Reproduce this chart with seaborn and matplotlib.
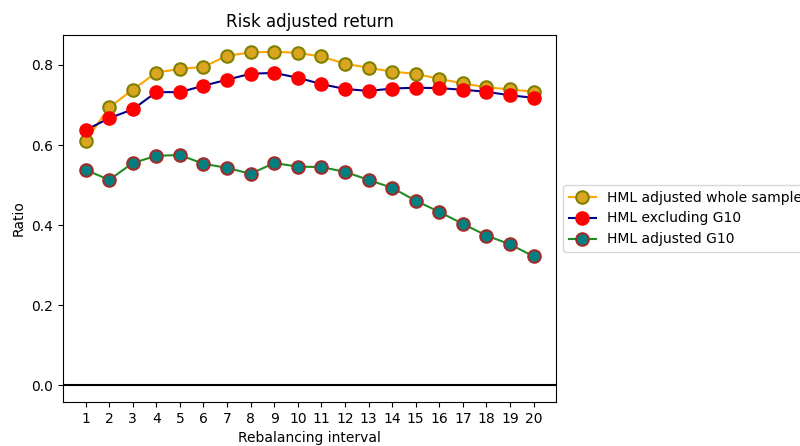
import numpy as np
import pandas as pd
import matplotlib
matplotlib.use("Agg")
import matplotlib.pyplot as plt
import seaborn as sns

# rebalancing interval (months)
interval = list(range(1, 21))

hml_whole = [0.610, 0.694, 0.738, 0.781, 0.790, 0.795, 0.823, 0.831, 0.833, 0.830,
             0.821, 0.803, 0.793, 0.783, 0.778, 0.765, 0.754, 0.744, 0.739, 0.733]
hml_ex_g10 = [0.637, 0.667, 0.689, 0.732, 0.732, 0.748, 0.763, 0.778, 0.780, 0.768,
              0.752, 0.740, 0.735, 0.741, 0.743, 0.742, 0.738, 0.733, 0.724, 0.718]
hml_g10 = [0.538, 0.513, 0.555, 0.573, 0.575, 0.553, 0.543, 0.528, 0.555, 0.546,
           0.545, 0.533, 0.513, 0.493, 0.461, 0.433, 0.403, 0.374, 0.352, 0.322]

df = pd.DataFrame({'interval': interval,
                   'HML adjusted whole sample': hml_whole,
                   'HML excluding G10': hml_ex_g10,
                   'HML adjusted G10': hml_g10})

fig = plt.figure(figsize=(8, 4.46), dpi=100)
ax = fig.add_axes([0.079, 0.0987, 0.616, 0.8228])

styles = {
    'HML adjusted whole sample': ('orange', 'goldenrod', 'olive'),
    'HML excluding G10': ('darkblue', 'red', 'red'),
    'HML adjusted G10': ('forestgreen', 'teal', 'brown'),
}
for name, (lc, fc, ec) in styles.items():
    sns.lineplot(x='interval', y=name, data=df, ax=ax, color=lc, marker='o',
                 markersize=9, markerfacecolor=fc, markeredgecolor=ec,
                 markeredgewidth=1.5, linewidth=1.5, label=name, legend=False)

ax.axhline(0, color='black', linewidth=1.5)
ax.set_xticks(interval)
ax.set_title('Risk adjusted return')
ax.set_xlabel('Rebalancing interval')
ax.set_ylabel('Ratio')
ax.legend(loc='center left', bbox_to_anchor=(1, 0.5))

fig.savefig('out.png', dpi=100)
